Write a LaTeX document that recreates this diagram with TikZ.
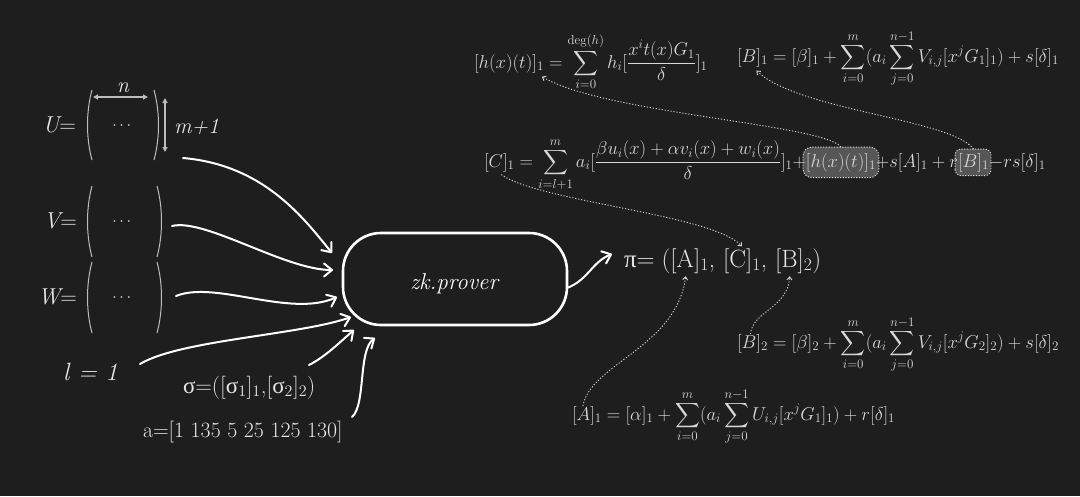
\RequirePackage{fix-cm}
\documentclass[tikz,border=0pt]{standalone}
\usepackage{amsmath}
\usepackage{fontspec}
\newfontfamily\grk{Liberation Serif}
\usetikzlibrary{arrows.meta}
\definecolor{bgc}{HTML}{1E1E1E}
\definecolor{txt}{HTML}{E6E6E6}
\definecolor{fmlc}{HTML}{D8D8D8}
\definecolor{hlfill}{HTML}{565656}
\definecolor{parc}{HTML}{BDBDBD}
\newcommand\fsz[1]{\fontsize{#1}{#1}\selectfont}
\pgfdeclarelayer{bglayer}
\pgfdeclarelayer{hllayer}
\pgfsetlayers{bglayer,hllayer,main}
\begin{document}
\begin{tikzpicture}[x=1pt,y=-1pt,
  every node/.style={inner sep=0pt, outer sep=0pt},
  lab/.style={text=txt},
  fml/.style={text=fmlc, font=\fsz{18.6}},
  pf/.style={text=txt, font=\fsz{25}, anchor=base west},
  arr/.style={draw=white, line width=2pt, line cap=round, -{Straight Barb[length=8pt,width=13pt,round]}},
  dotarr/.style={draw=fmlc, line width=0.9pt, dash pattern=on 1.2pt off 1.8pt, -{Straight Barb[length=3pt,width=5pt]}},
  mparen/.style={draw=parc, line width=1pt},
  dim/.style={draw=parc, line width=1.6pt, {Triangle[length=5pt,width=5pt]}-{Triangle[length=5pt,width=5pt]}},
  hlbox/.style={fill=hlfill, draw=fmlc, line width=0.9pt, dash pattern=on 1.2pt off 1.5pt, rounded corners=9pt},
  prover/.style={draw=white, line width=2.6pt, rounded corners=38pt, minimum width=224pt, minimum height=92pt}
]
\useasboundingbox (0,0) rectangle (1080,496);
\begin{pgfonlayer}{bglayer}
\fill[bgc] (0,0) rectangle (1080,496);
\end{pgfonlayer}

% ---- matrices ----
\node[lab, font=\fsz{23}, anchor=base east] (Ul) at (76,132) {{\itshape U}=};
\draw[mparen] (92,90) .. controls (86,112) and (86,138) .. (92,160);
\draw[mparen] (154,90) .. controls (160,112) and (160,138) .. (154,160);
\node[lab, font=\fsz{16}] (Ud) at (123,126) {$\cdots$};
\draw[dim] (93,97) -- (148,97);
\node[lab, font=\fsz{22}\itshape, anchor=base] (nl) at (123,92) {n};
\draw[dim] (165,98) -- (165,152);
\node[lab, font=\fsz{22}\itshape, anchor=base west] (ml) at (174,133) {m+1};

\node[lab, font=\fsz{23}, anchor=base east] (Vl) at (77,228) {{\itshape V}=};
\draw[mparen] (92,186) .. controls (86,208) and (86,235) .. (92,257);
\draw[mparen] (157,186) .. controls (163,208) and (163,235) .. (157,257);
\node[lab, font=\fsz{16}] (Vd) at (123,222) {$\cdots$};

\node[lab, font=\fsz{23}, anchor=base east] (Wl) at (77,304) {{\itshape W}=};
\draw[mparen] (92,262) .. controls (86,284) and (86,311) .. (92,333);
\draw[mparen] (157,262) .. controls (163,284) and (163,311) .. (157,333);
\node[lab, font=\fsz{16}] (Wd) at (123,298) {$\cdots$};

\node[lab, font=\fsz{25}\itshape, anchor=base west] (ll) at (63,380) {l = 1};
\node[lab, font=\fsz{23}, anchor=base west] (sig) at (183,393) {{\grk σ}=([{\grk σ}$_1$]$_1$,[{\grk σ}$_2$]$_2$)};
\node[lab, font=\fsz{21.8}, anchor=base west] (avec) at (143,437) {a=[1 135 5 25 125 130]};

% ---- prover ----
\node[prover] (prov) at (455,279) {};
\node[text=white, font=\fsz{23}\itshape, anchor=base] (provtxt) at (454,289) {zk.prover};

% ---- input arrows ----
\coordinate (sU) at (183,158); \coordinate (tU) at (332,253);
\coordinate (sV) at (172,226); \coordinate (tV) at (333,270);
\coordinate (sW) at (176,296); \coordinate (tW) at (337,297);
\coordinate (sl) at (140,364); \coordinate (tl) at (351,317);
\coordinate (ss) at (309,365); \coordinate (ts) at (354,330);
\coordinate (sa) at (352,417); \coordinate (ta) at (375,338);
\draw[arr] (sU) .. controls (265,165) and (305,220) .. (tU);
\draw[arr] (sV) .. controls (205,218) and (285,270) .. (tV);
\draw[arr] (sW) .. controls (215,280) and (290,318) .. (tW);
\draw[arr] (sl) .. controls (180,340) and (300,335) .. (tl);
\draw[arr] (ss) .. controls (325,357) and (340,342) .. (ts);
\draw[arr] (sa) .. controls (366,405) and (358,350) .. (ta);

% ---- proof ----
\node[pf] (p0) at (624,267) {{\grk π}=\kern7pt(};
\node[pf] (pA) at (p0.base east) {[A]$_1$};
\node[pf] (pk1) at (pA.base east) {,\kern8pt};
\node[pf] (pC) at (pk1.base east) {[C]$_1$};
\node[pf] (pk2) at (pC.base east) {,\kern8pt};
\node[pf] (pB) at (pk2.base east) {[B]$_2$};
\node[pf] (p9) at (pB.base east) {)};
\coordinate (po) at (567,288);
\coordinate (pin) at (612,254);
\draw[arr] (po) .. controls (588,280) and (592,262) .. (pin);

% ---- formulas ----
\node[fml, anchor=base west] (hL) at (474,68) {$[h(x)(t)]_1$};
\node[fml, anchor=base west] (hR) at (hL.base east) {${}= \displaystyle\sum_{i=0}^{\deg(h)} h_i[\frac{x^it(x)G_1}{\delta}]_1$};

\node[fml, anchor=base west] (bL) at (737,62) {$[B]_1$};
\node[fml, anchor=base west] (bR) at (bL.base east) {${}= [\beta]_1 + \displaystyle\sum_{i=0}^{m}(a_i\sum_{j=0}^{n-1}V_{i,j}[x^jG_1]_1) + s[\delta]_1$};

\node[fml, anchor=base west] (c1) at (484,167) {$[C]_1$};
\node[fml, anchor=base west] (c2) at (c1.base east) {${}= \displaystyle\sum_{i=l+1}^{m} a_i[\frac{\beta u_i(x)+\alpha v_i(x)+w_i(x)}{\delta}]_1+$};
\node[fml, anchor=base west] (hb) at (c2.base east) {$[h(x)(t)]_1$};
\node[fml, anchor=base west] (c3) at (hb.base east) {$+s[A]_1+r$};
\node[fml, anchor=base west] (bb) at (c3.base east) {$[B]_1$};
\node[fml, anchor=base west] (c4) at (bb.base east) {$-rs[\delta]_1$};

\node[fml, anchor=base west] (b2L) at (737,348) {$[B]_2$};
\node[fml, anchor=base west] (b2R) at (b2L.base east) {${}= [\beta]_2 + \displaystyle\sum_{i=0}^{m}(a_i\sum_{j=0}^{n-1}V_{i,j}[x^jG_2]_2) + s[\delta]_2$};

\node[fml, anchor=base west] (aL) at (572,420) {$[A]_1$};
\node[fml, anchor=base west] (aR) at (aL.base east) {${}= [\alpha]_1 + \displaystyle\sum_{i=0}^{m}(a_i\sum_{j=0}^{n-1}U_{i,j}[x^jG_1]_1) + r[\delta]_1$};

\begin{pgfonlayer}{hllayer}
\draw[hlbox] ([shift={(-3pt,-6pt)}]hb.south west) rectangle ([shift={(3pt,6pt)}]hb.north east);
\draw[hlbox, rounded corners=6pt] ([shift={(-3pt,-4pt)}]bb.south west) rectangle ([shift={(2pt,4pt)}]bb.north east);
\end{pgfonlayer}

% ---- dotted connectors ----
\draw[dotarr] ([yshift=6pt]hb.north) .. controls +(-18,-23) and +(63,37) .. ([shift={(-2pt,-4pt)}]hL.south east);
\draw[dotarr] ([yshift=4pt]bb.north) .. controls +(-22,-30) and +(42,40) .. ([shift={(4pt,-4pt)}]bL.south);
\draw[dotarr] ([shift={(2pt,-3pt)}]c1.south) .. controls +(38,27) and +(-30,-32) .. ([yshift=2pt]pC.north);
\draw[dotarr] ([xshift=-4pt]aL.north) .. controls +(7,-42) and +(-9,71) .. ([shift={(-4pt,-3pt)}]pA.south);
\draw[dotarr] ([xshift=-2pt]b2L.north) .. controls +(2,-23) and +(-2,32) .. ([shift={(-4pt,-3pt)}]pB.south);
\end{tikzpicture}
\end{document}
